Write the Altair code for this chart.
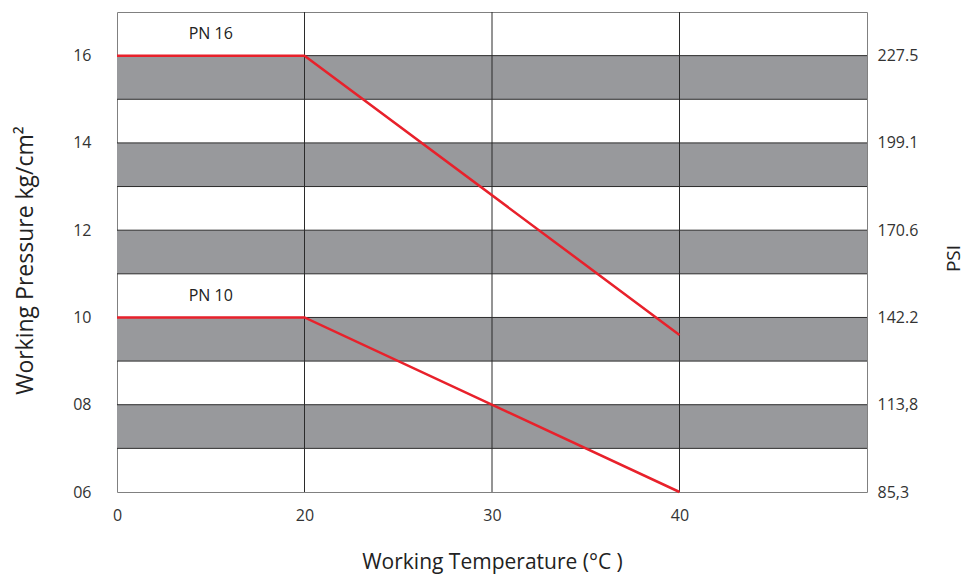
import altair as alt
import pandas as pd

# ---- data ----
x_pos = [0, 1, 2, 3]
x_labels = ["0", "20", "30", "40"]
line_x = [0, 1, 3]
pn16 = [16, 16, 9.6]
pn10 = [10, 10, 6]
y_ticks = [6, 8, 10, 12, 14, 16]
y_labels = ["06", "08", "10", "12", "14", "16"]
psi_labels = ["85,3", "113,8", "142.2", "170.6", "199.1", "227.5"]
band_lo = [7, 9, 11, 13, 15]
grid_y = [7, 8, 9, 10, 11, 12, 13, 14, 15, 16]
grid_x = [1, 2, 3]
pn_names = ["PN 16", "PN 10"]
pn_label_y = [16.5, 10.5]

FONT = "Open Sans"
X_MAX = 4
Y_MIN, Y_MAX = 6, 17

xs = alt.Scale(domain=[0, X_MAX], nice=False, zero=False)
ys = alt.Scale(domain=[Y_MIN, Y_MAX], nice=False, zero=False)

x_expr = "[" + ",".join("'%s'" % s for s in x_labels) + "][datum.value]"
y_expr = "[" + ",".join("'%s'" % s for s in y_labels) + "][(datum.value-6)/2]"
psi_expr = "[" + ",".join("'%s'" % s for s in psi_labels) + "][(datum.value-6)/2]"

bands_df = pd.DataFrame({"lo": band_lo, "hi": [b + 1 for b in band_lo],
                         "x0": 0, "x1": X_MAX})
hgrid_df = pd.DataFrame({"y": grid_y, "x0": 0, "x1": X_MAX})
vgrid_df = pd.DataFrame({"x": grid_x, "y0": Y_MIN, "y1": Y_MAX})
lines_df = pd.concat([
    pd.DataFrame({"x": line_x, "y": pn16, "s": "PN 16"}),
    pd.DataFrame({"x": line_x, "y": pn10, "s": "PN 10"}),
])
text_df = pd.DataFrame({"name": pn_names, "y": pn_label_y, "x": 0.5})
psi_df = pd.DataFrame({"y": y_ticks})

bands = alt.Chart(bands_df).mark_rect(color="#98999c").encode(
    x=alt.X("x0:Q", scale=xs, axis=alt.Axis(
        values=x_pos, labelExpr=x_expr, title="Working Temperature (°C )",
        labelFontSize=16, labelColor="#333", labelFont=FONT, labelPadding=15,
        labelFlush=False,
        titleFontSize=21, titleFont=FONT, titleFontWeight="normal", titleColor="#222",
        titleY=76, titleBaseline="alphabetic")),
    x2="x1:Q",
    y=alt.Y("lo:Q", scale=ys, axis=alt.Axis(
        values=y_ticks, labelExpr=y_expr, title="Working Pressure kg/cm²",
        labelFontSize=16, labelColor="#333", labelFont=FONT, labelPadding=26,
        labelFlush=False,
        titleFontSize=23, titleFont=FONT, titleFontWeight="normal", titleColor="#222",
        titleX=-92, titleY=248, titleAngle=270, titleBaseline="middle", titleAlign="center")),
    y2="hi:Q",
)

hgrid = alt.Chart(hgrid_df).mark_rule(color="#2b2b2b", strokeWidth=1).encode(
    x=alt.X("x0:Q", scale=xs, axis=None), x2="x1:Q",
    y=alt.Y("y:Q", scale=ys, axis=None),
)
vgrid = alt.Chart(vgrid_df).mark_rule(color="#2b2b2b", strokeWidth=1).encode(
    x=alt.X("x:Q", scale=xs, axis=None),
    y=alt.Y("y0:Q", scale=ys, axis=None), y2="y1:Q",
)
lines = alt.Chart(lines_df).mark_line(color="#e8212b", strokeWidth=2.5).encode(
    x=alt.X("x:Q", scale=xs, axis=None),
    y=alt.Y("y:Q", scale=ys, axis=None),
    detail="s:N",
)
labels = alt.Chart(text_df).mark_text(font=FONT, fontSize=16, color="#222").encode(
    x=alt.X("x:Q", scale=xs, axis=None),
    y=alt.Y("y:Q", scale=ys, axis=None),
    text="name:N",
)
right = alt.Chart(psi_df).mark_tick(opacity=0).encode(
    y=alt.Y("y:Q", scale=ys, axis=alt.Axis(
        orient="right", values=y_ticks, labelExpr=psi_expr, title="PSI",
        labelFontSize=16, labelColor="#333", labelFont=FONT, labelPadding=10,
        labelFlush=False,
        titleFontSize=19, titleFont=FONT, titleFontWeight="normal", titleColor="#222",
        titleX=86, titleY=246, titleAngle=270, titleBaseline="middle", titleAlign="center")),
)

chart = alt.layer(bands, hgrid, vgrid, lines, labels, right).resolve_scale(
    y="independent"
).resolve_axis(x="independent").properties(
    width=750, height=480,
    autosize=alt.AutoSizeParams(type="none"),
    padding={"left": 109, "top": 4, "right": 98, "bottom": 82},
).configure_axis(
    domain=False, ticks=False, grid=False,
).configure_view(stroke="#808080", strokeWidth=1)

chart.save("out.html", embed_options={"renderer": "svg", "actions": False})
